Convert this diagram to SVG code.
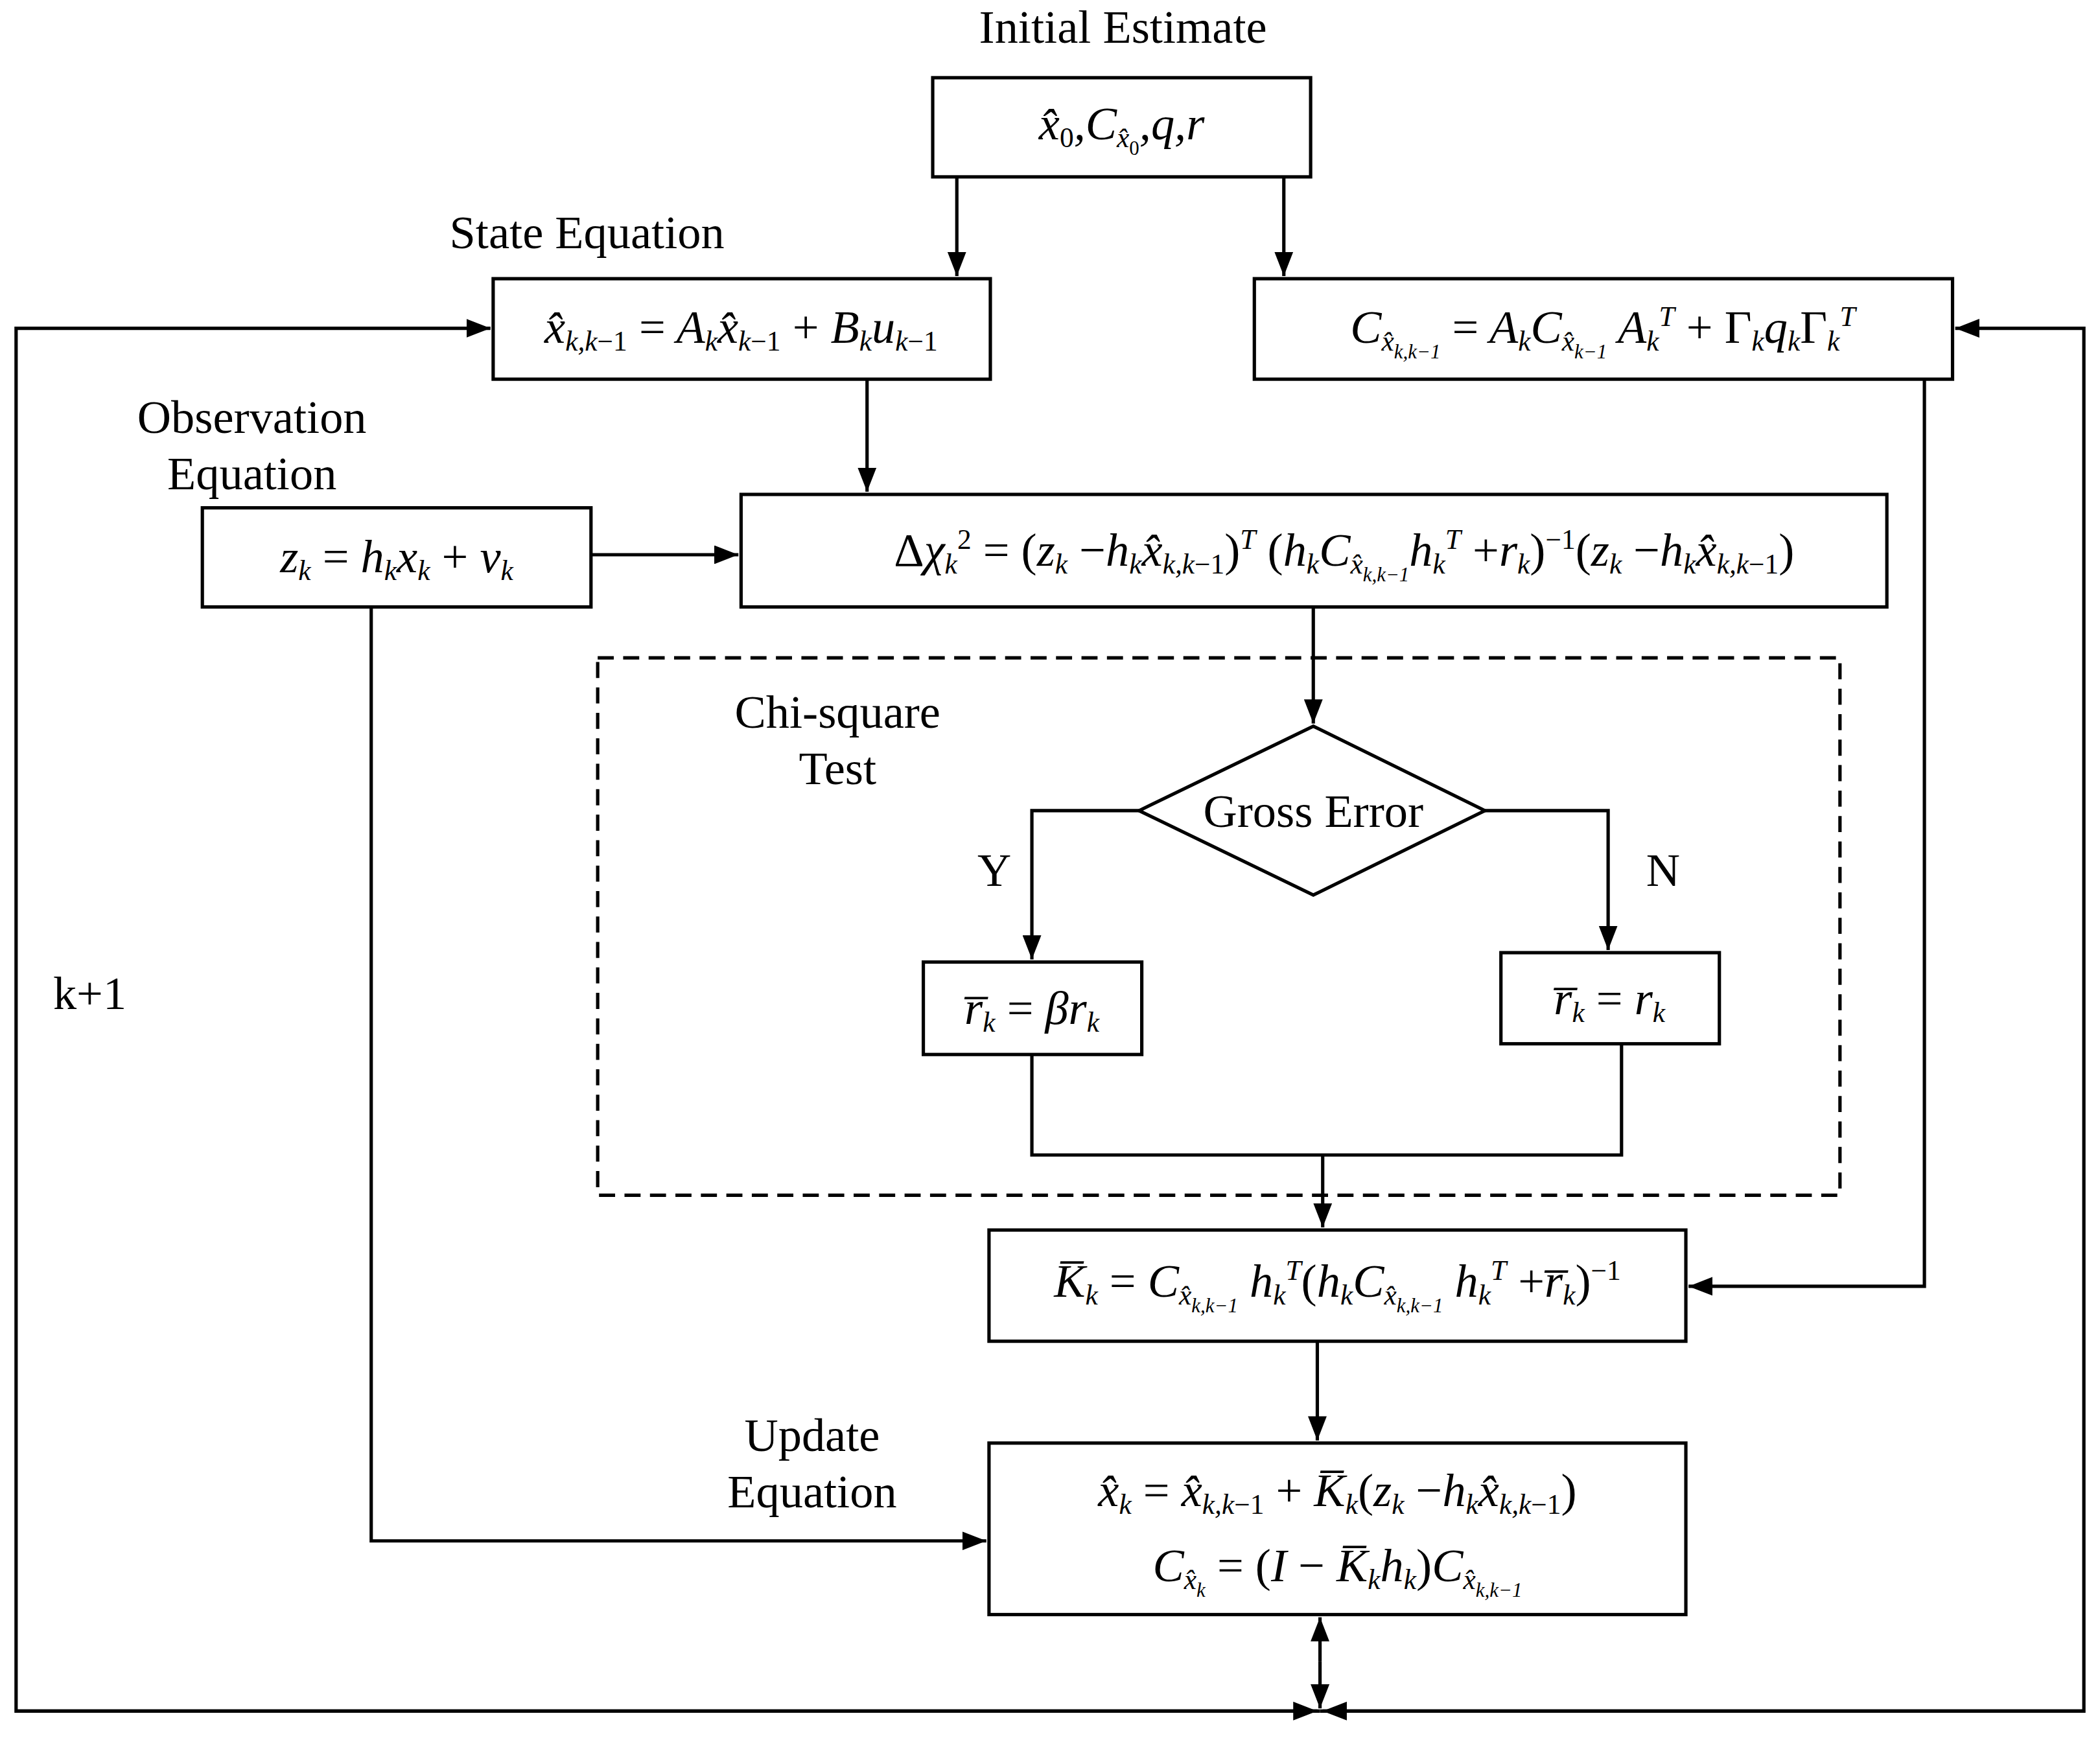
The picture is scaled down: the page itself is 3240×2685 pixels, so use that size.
<svg xmlns="http://www.w3.org/2000/svg" width="3240" height="2685" viewBox="0 0 3240 2685">
<defs>
<style>
.b{fill:#fff;stroke:#000;stroke-width:2.5}
.l{fill:none;stroke:#000;stroke-width:2.5}
.t{font-family:"Liberation Serif",serif;font-size:35px;fill:#000}
.m{font-family:"Liberation Serif",serif;font-size:35px;font-style:italic;fill:#000}
.n{font-style:normal}
.s{font-size:21px;baseline-shift:-28%}
.p{font-size:21px;baseline-shift:60%}
.ss{font-size:15px;baseline-shift:-40%}
</style>
<marker id="a" viewBox="0 0 10 10" refX="10" refY="5" markerWidth="18" markerHeight="14" orient="auto" markerUnits="userSpaceOnUse" preserveAspectRatio="none"><path d="M0,0 L10,5 L0,10 z" fill="#000"/></marker>
</defs>
<rect width="3240" height="2685" fill="#fff"/>
<g transform="scale(2.0676)">
<g id="connectors">
<path class="l" d="M714,132 V206" marker-end="url(#a)"/>
<path class="l" d="M958,132 V206" marker-end="url(#a)"/>
<path class="l" d="M647,283 V367" marker-end="url(#a)"/>
<path class="l" d="M441,414 H551" marker-end="url(#a)"/>
<path class="l" d="M980,453 V540" marker-end="url(#a)"/>
<path class="l" d="M850,605 H770 V716" marker-end="url(#a)"/>
<path class="l" d="M1108,605 H1200 V709" marker-end="url(#a)"/>
<path class="l" d="M770,787 V862 H1210 V779"/>
<path class="l" d="M987,862 V916" marker-end="url(#a)"/>
<path class="l" d="M1436,283 V960 H1260" marker-end="url(#a)"/>
<path class="l" d="M983,1001 V1075" marker-end="url(#a)"/>
<path class="l" d="M277,453 V1150 H736" marker-end="url(#a)"/>
<path class="l" d="M985,1240 V1207" marker-end="url(#a)"/>
<path class="l" d="M985,1240 V1275" marker-end="url(#a)"/>
<path class="l" d="M985,1277 H12 V245 H366" marker-end="url(#a)"/>
<path class="l" d="M985,1277 H1555 V245 H1459" marker-end="url(#a)"/>
<path class="l" d="M12,1277 H983" marker-end="url(#a)"/>
<path class="l" d="M1555,1277 H987" marker-end="url(#a)"/>
</g>
<g id="chi-test-frame"><rect x="446" y="491" width="927" height="401" fill="none" stroke="#000" stroke-width="2.5" stroke-dasharray="12,7"/>
<text class="t" x="625" y="543" text-anchor="middle">Chi-square</text><text class="t" x="625" y="585" text-anchor="middle">Test</text></g>
<g id="initial"><text class="t" x="838" y="32" text-anchor="middle">Initial Estimate</text>
<rect class="b" x="696" y="58" width="282" height="74"/>
<text class="m" x="837" y="104" text-anchor="middle">x̂<tspan class="s n">0</tspan>,C<tspan class="s">x̂<tspan class="ss n">0</tspan></tspan>,q,r</text></g>
<g id="state"><text class="t" x="438" y="185" text-anchor="middle">State Equation</text>
<rect class="b" x="368" y="208" width="371" height="75"/>
<text class="m" x="553" y="256" text-anchor="middle">x̂<tspan class="s">k,k<tspan class="n">−1</tspan></tspan> <tspan class="n">=</tspan> A<tspan class="s">k</tspan>x̂<tspan class="s">k<tspan class="n">−1</tspan></tspan> <tspan class="n">+</tspan> B<tspan class="s">k</tspan>u<tspan class="s">k<tspan class="n">−1</tspan></tspan></text></g>
<g id="covariance"><rect class="b" x="936" y="208" width="521" height="75"/>
<text class="m" x="1196" y="256" text-anchor="middle">C<tspan class="s">x̂<tspan class="ss">k,k−1</tspan></tspan> <tspan class="n">=</tspan> A<tspan class="s">k</tspan>C<tspan class="s">x̂<tspan class="ss">k−1</tspan></tspan> A<tspan class="s">k</tspan><tspan class="p">T</tspan> <tspan class="n">+ Γ</tspan><tspan class="s">k</tspan>q<tspan class="s">k</tspan><tspan class="n">Γ</tspan><tspan class="s">k</tspan><tspan class="p">T</tspan></text></g>
<g id="observation"><text class="t" x="188" y="323" text-anchor="middle">Observation</text><text class="t" x="188" y="365" text-anchor="middle">Equation</text>
<rect class="b" x="151" y="379" width="290" height="74"/>
<text class="m" x="296" y="427" text-anchor="middle">z<tspan class="s">k</tspan> <tspan class="n">=</tspan> h<tspan class="s">k</tspan>x<tspan class="s">k</tspan> <tspan class="n">+</tspan> v<tspan class="s">k</tspan></text></g>
<g id="chi"><rect class="b" x="553" y="369" width="855" height="84"/>
<text class="m" x="1003" y="422" text-anchor="middle"><tspan class="n">Δ</tspan>χ<tspan class="s">k</tspan><tspan class="p n">2</tspan> <tspan class="n">= (</tspan>z<tspan class="s">k</tspan> <tspan class="n">−</tspan>h<tspan class="s">k</tspan>x̂<tspan class="s">k,k<tspan class="n">−1</tspan></tspan><tspan class="n">)</tspan><tspan class="p">T</tspan><tspan class="n"> (</tspan>h<tspan class="s">k</tspan>C<tspan class="s">x̂<tspan class="ss">k,k−1</tspan></tspan>h<tspan class="s">k</tspan><tspan class="p">T</tspan> <tspan class="n">+</tspan>r<tspan class="s">k</tspan><tspan class="n">)</tspan><tspan class="p n">−1</tspan><tspan class="n">(</tspan>z<tspan class="s">k</tspan> <tspan class="n">−</tspan>h<tspan class="s">k</tspan>x̂<tspan class="s">k,k<tspan class="n">−1</tspan></tspan><tspan class="n">)</tspan></text></g>
<g id="gross-error"><path class="b" d="M980,542 L1108,605 L980,668 L850,605 Z"/>
<text class="t" x="980" y="617" text-anchor="middle">Gross Error</text>
<text class="t" x="742" y="661" text-anchor="middle">Y</text><text class="t" x="1241" y="661" text-anchor="middle">N</text></g>
<g id="r-yes"><rect class="b" x="689" y="718" width="163" height="69"/>
<text class="m" x="770" y="764" text-anchor="middle">r̅<tspan class="s">k</tspan> <tspan class="n">=</tspan> βr<tspan class="s">k</tspan></text></g>
<g id="r-no"><rect class="b" x="1120" y="711" width="163" height="68"/>
<text class="m" x="1201" y="757" text-anchor="middle">r̅<tspan class="s">k</tspan> <tspan class="n">=</tspan> r<tspan class="s">k</tspan></text></g>
<g id="gain"><rect class="b" x="738" y="918" width="520" height="83"/>
<text class="m" x="998" y="968" text-anchor="middle">K̅<tspan class="s">k</tspan> <tspan class="n">=</tspan> C<tspan class="s">x̂<tspan class="ss">k,k−1</tspan></tspan> h<tspan class="s">k</tspan><tspan class="p">T</tspan><tspan class="n">(</tspan>h<tspan class="s">k</tspan>C<tspan class="s">x̂<tspan class="ss">k,k−1</tspan></tspan> h<tspan class="s">k</tspan><tspan class="p">T</tspan> <tspan class="n">+</tspan>r̅<tspan class="s">k</tspan><tspan class="n">)</tspan><tspan class="p n">−1</tspan></text></g>
<g id="update"><text class="t" x="606" y="1083" text-anchor="middle">Update</text><text class="t" x="606" y="1125" text-anchor="middle">Equation</text>
<rect class="b" x="738" y="1077" width="520" height="128"/>
<text class="m" x="998" y="1124" text-anchor="middle">x̂<tspan class="s">k</tspan> <tspan class="n">=</tspan> x̂<tspan class="s">k,k<tspan class="n">−1</tspan></tspan> <tspan class="n">+</tspan> K̅<tspan class="s">k</tspan><tspan class="n">(</tspan>z<tspan class="s">k</tspan> <tspan class="n">−</tspan>h<tspan class="s">k</tspan>x̂<tspan class="s">k,k<tspan class="n">−1</tspan></tspan><tspan class="n">)</tspan></text>
<text class="m" x="998" y="1180" text-anchor="middle">C<tspan class="s">x̂<tspan class="ss">k</tspan></tspan> <tspan class="n">= (</tspan>I <tspan class="n">−</tspan> K̅<tspan class="s">k</tspan>h<tspan class="s">k</tspan><tspan class="n">)</tspan>C<tspan class="s">x̂<tspan class="ss">k,k−1</tspan></tspan></text></g>
<text class="t" x="67" y="753" text-anchor="middle">k+1</text>
</g>
</svg>
